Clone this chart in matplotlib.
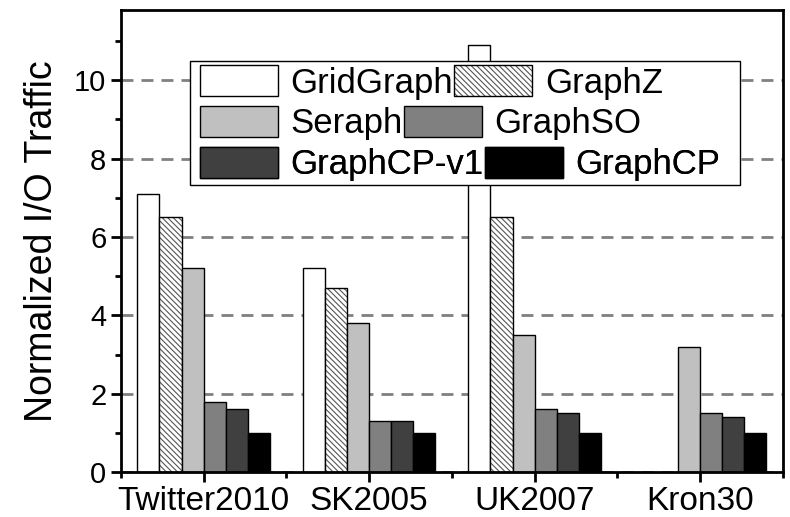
import numpy as np
import matplotlib
matplotlib.use("Agg")
import matplotlib.pyplot as plt
from matplotlib.patches import Patch, Rectangle
from matplotlib.ticker import MultipleLocator, FixedLocator

datasets = ["Twitter2010", "SK2005", "UK2007", "Kron30"]
systems = ["GridGraph", "GraphZ", "Seraph", "GraphSO", "GraphCP-v1", "GraphCP"]
gridgraph = [7.1, 5.2, 10.9, 0.0]
graphz = [6.5, 4.7, 6.5, 0.0]
seraph = [5.2, 3.8, 3.5, 3.2]
graphso = [1.8, 1.3, 1.6, 1.5]
graphcp_v1 = [1.6, 1.3, 1.5, 1.4]
graphcp = [1.0, 1.0, 1.0, 1.0]
values = [gridgraph, graphz, seraph, graphso, graphcp_v1, graphcp]

colors = ["white", "white", "#c0c0c0", "#808080", "#404040", "black"]
hatches = [None, "\\\\\\\\\\\\", None, None, None, None]

plt.rcParams["font.family"] = ["Liberation Sans", "DejaVu Sans"]
plt.rcParams["hatch.linewidth"] = 0.8

fig = plt.figure(figsize=(7.9, 5.17), dpi=100)
ax = fig.add_axes([0.153, 0.087, 0.838, 0.894])

x = np.arange(len(datasets))
w = 0.8 / len(systems)
handles = []
for i, (name, vals) in enumerate(zip(systems, values)):
    pos = x - 0.4 + w * (i + 0.5)
    keep = [j for j, v in enumerate(vals) if v > 0]
    h = np.array(vals)[keep]
    if hatches[i]:
        # hatch in grey, outline in black on top
        ax.bar(pos[keep], h, width=w, color=colors[i], edgecolor="#555555",
               linewidth=0, hatch=hatches[i], zorder=2)
        ax.bar(pos[keep], h, width=w, fill=False, edgecolor="black",
               linewidth=1.0, zorder=2)
        handles.append((Patch(facecolor=colors[i], edgecolor="#555555", linewidth=0,
                              hatch=hatches[i]),
                        Patch(fill=False, edgecolor="black", linewidth=1.0)))
    else:
        ax.bar(pos[keep], h, width=w, color=colors[i],
               edgecolor="black", linewidth=1.0, zorder=2)
        handles.append(Patch(facecolor=colors[i], edgecolor="black", linewidth=1.0))

ax.set_xlim(-0.5, 3.5)
ax.set_ylim(0, 11.8)
ax.set_xticks(x)
ax.set_xticklabels(datasets, fontsize=24)
ax.xaxis.set_minor_locator(FixedLocator(np.arange(-0.5, 4.0, 1.0)))
ax.yaxis.set_major_locator(MultipleLocator(2))
ax.yaxis.set_minor_locator(MultipleLocator(1))
ax.tick_params(axis="y", which="major", labelsize=21, length=7, width=2, direction="out")
ax.tick_params(axis="y", which="minor", length=4, width=2, direction="out")
ax.tick_params(axis="x", which="major", length=7, width=2, direction="out", pad=3)
ax.tick_params(axis="x", which="minor", length=4, width=2, direction="out")
for s in ax.spines.values():
    s.set_linewidth(2)

ax.set_axisbelow(True)
ax.yaxis.grid(True, which="major", linestyle=(0, (4.3, 2.9)), color="#808080", linewidth=2)
ax.set_ylabel("Normalized I/O Traffic", fontsize=27, labelpad=10)

# legend box drawn as three rows, like the original
frame = Rectangle((0.104, 0.621), 0.831, 0.269, transform=ax.transAxes,
                  facecolor="white", edgecolor="black", linewidth=1.0, zorder=5)
ax.add_patch(frame)
rows = [(0.843, 0, 2), (0.755, 2, 4), (0.666, 4, 6)]
for yy, a, b in rows:
    leg = ax.legend(handles=handles[a:b], labels=systems[a:b], ncol=2, loc="center left",
                    bbox_to_anchor=(0.119, yy), frameon=False, fontsize=25,
                    handlelength=2.25, handleheight=1.0, handletextpad=0.36,
                    columnspacing=0.04, borderpad=0, borderaxespad=0)
    leg.set_zorder(6)
    ax.add_artist(leg)

fig.savefig("out.png", dpi=100)
